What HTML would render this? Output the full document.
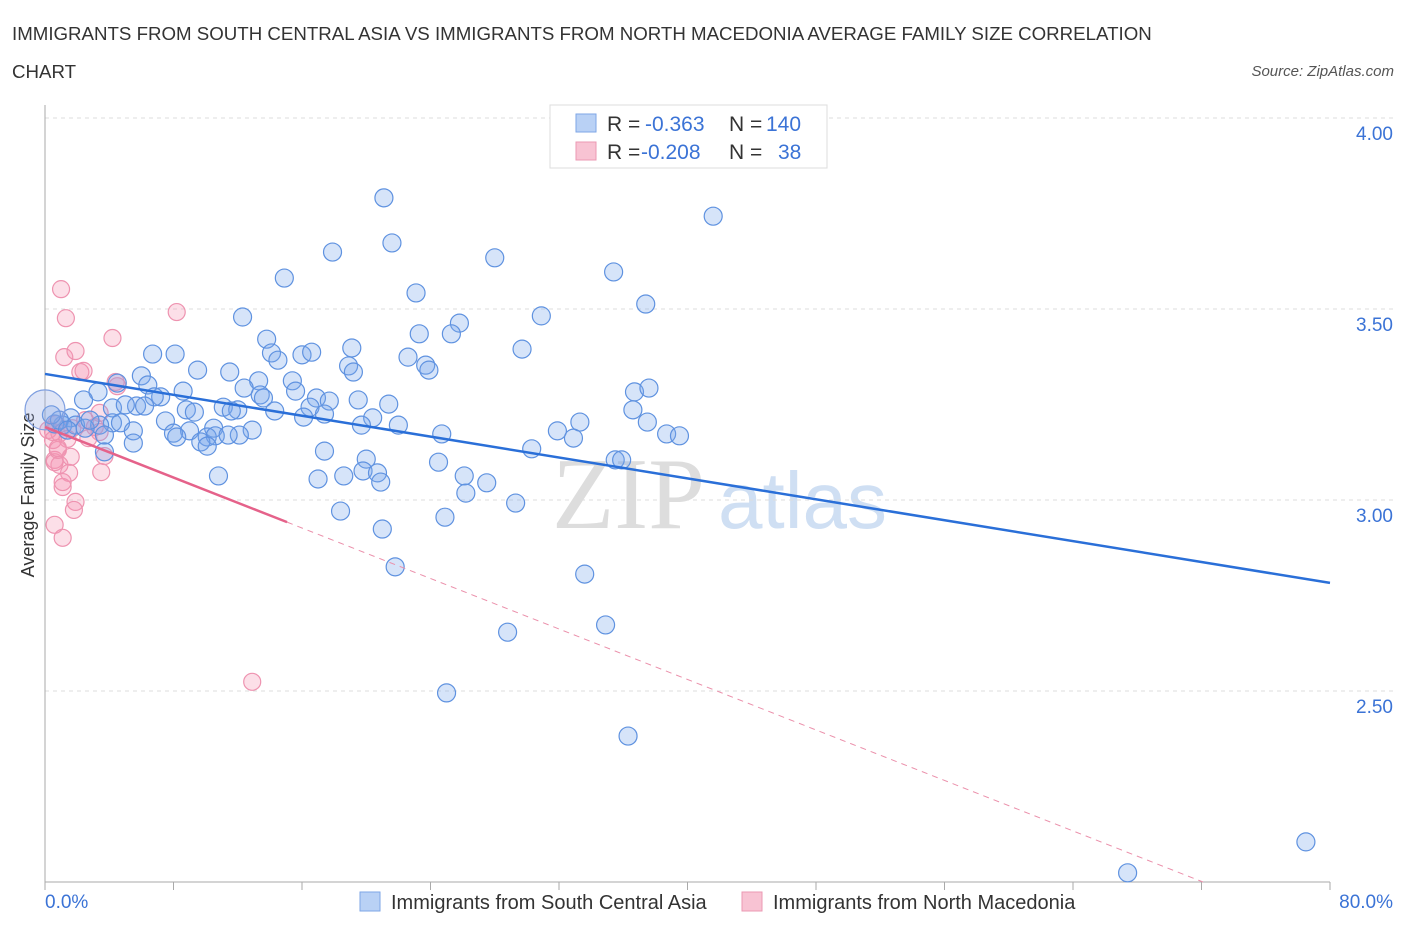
<!DOCTYPE html>
<html><head><meta charset="utf-8"><style>
body{margin:0;background:#fff;font-family:"Liberation Sans",sans-serif;}
svg{display:block}
</style></head><body>
<svg id="chart" width="1406" height="930">
<text x="12" y="40" font-size="18.7" fill="#333">IMMIGRANTS FROM SOUTH CENTRAL ASIA VS IMMIGRANTS FROM NORTH MACEDONIA AVERAGE FAMILY SIZE CORRELATION</text>
<text x="12" y="78" font-size="18.7" fill="#333">CHART</text>
<text x="1394" y="76" font-size="15" fill="#555" font-style="italic" text-anchor="end">Source: ZipAtlas.com</text>
<text x="0" y="0" transform="translate(34,495) rotate(-90)" font-size="18" fill="#333" text-anchor="middle">Average Family Size</text>
<g>
<text x="552" y="528" font-size="102" fill="#ddd" font-family="Liberation Serif,serif">ZIP</text>
<text x="718" y="528" font-size="80" fill="#cfdff3">atlas</text>
</g>
<g id="grid"></g>
<g id="axes"></g>
<g id="pts"></g>
<g id="lines"></g>
<g>
<rect x="550" y="105" width="277" height="63" fill="#fff" stroke="#ddd"/>
<rect x="576" y="114" width="20" height="18" fill="#b9d1f5" stroke="#7ea6e6"/>
<rect x="576" y="142" width="20" height="18" fill="#f8c3d3" stroke="#eb98b3"/>
<text y="131" font-size="21"><tspan x="607" fill="#333">R = </tspan><tspan x="645" fill="#3b73d6">-0.363</tspan><tspan x="729" fill="#333">N = </tspan><tspan x="766" fill="#3b73d6">140</tspan></text>
<text y="159" font-size="21"><tspan x="607" fill="#333">R = </tspan><tspan x="641" fill="#3b73d6">-0.208</tspan><tspan x="729" fill="#333">N = </tspan><tspan x="778" fill="#3b73d6">38</tspan></text>
</g>
<g>
<rect x="360" y="892" width="20" height="19" fill="#b9d1f5" stroke="#7ea6e6"/>
<text x="391" y="909" font-size="20" fill="#333">Immigrants from South Central Asia</text>
<rect x="742" y="892" width="20" height="19" fill="#f8c3d3" stroke="#eb98b3"/>
<text x="773" y="909" font-size="20" fill="#333">Immigrants from North Macedonia</text>
</g>
</svg>
<script>
const yTicks=[2.5,3.0,3.5,4.0];
const yTickLabels=["2.50","3.00","3.50","4.00"];
const xTicks=[0,8,16,24,32,40,48,56,64,72,80];
const blueX=[21.1,41.6,21.6,17.9,28.0,35.4,14.9,23.1,37.4,12.3,30.9,25.8,23.3,25.3,13.8,29.7,19.1,6.7,8.1,14.1,16.0,16.6,22.6,23.7,23.9,18.9,19.2,9.5,14.5,11.5,6.0,4.5,6.4,15.4,13.3,12.4,8.6,13.4,36.7,37.6,15.6,13.6,16.9,19.5,3.3,2.4,7.2,6.8,5.7,4.2,5.0,6.2,11.1,12.0,8.8,9.3,16.5,17.7,11.6,14.3,17.4,21.4,36.6,16.1,20.4,19.7,22.0,33.3,37.5,4.2,4.7,1.6,1.1,7.5,0.6,3.4,9.0,10.5,12.9,24.7,31.9,32.9,38.7,39.5,10.1,3.7,5.5,8.0,12.1,8.2,10.6,11.4,9.7,10.1,5.5,3.7,17.4,30.3,24.5,20.0,35.5,35.9,19.8,20.7,17.0,26.1,10.8,27.5,20.9,18.6,26.2,29.3,18.4,24.9,21.0,21.8,33.6,34.9,28.8,25.0,36.3,78.5,67.4,0.9,1.9,2.5,1.4,2.8,0.4];
const blueY=[3.791,3.743,3.673,3.649,3.634,3.597,3.581,3.542,3.513,3.479,3.482,3.463,3.435,3.435,3.421,3.395,3.398,3.382,3.382,3.385,3.380,3.387,3.374,3.353,3.340,3.351,3.335,3.340,3.366,3.335,3.325,3.306,3.301,3.312,3.312,3.293,3.285,3.275,3.283,3.293,3.285,3.267,3.267,3.262,3.283,3.262,3.270,3.270,3.246,3.241,3.249,3.246,3.243,3.236,3.236,3.230,3.243,3.259,3.233,3.233,3.225,3.251,3.236,3.217,3.215,3.196,3.196,3.204,3.204,3.202,3.202,3.215,3.196,3.207,3.199,3.196,3.181,3.188,3.183,3.173,3.181,3.162,3.173,3.168,3.165,3.170,3.181,3.175,3.170,3.165,3.168,3.170,3.152,3.141,3.149,3.126,3.128,3.134,3.099,3.107,3.105,3.105,3.076,3.071,3.055,3.063,3.063,3.045,3.047,3.063,3.018,2.992,2.971,2.955,2.924,2.825,2.806,2.673,2.654,2.495,2.382,2.105,2.024,3.209,3.196,3.188,3.183,3.209,3.223];
const pinkX=[1.0,1.3,8.2,4.2,1.2,1.9,2.2,2.4,4.4,4.5,3.4,3.1,3.4,0.7,0.5,0.9,1.4,0.6,0.9,0.6,0.8,1.6,1.5,3.5,1.1,1.1,1.9,1.8,0.6,1.1,12.9,3.7,2.7,1.7,0.2,0.5,0.8,2.5];
const pinkY=[3.552,3.476,3.492,3.424,3.374,3.390,3.335,3.338,3.309,3.298,3.228,3.191,3.178,3.199,3.178,3.175,3.160,3.105,3.092,3.099,3.131,3.113,3.071,3.073,3.034,3.047,2.995,2.974,2.935,2.901,2.524,3.115,3.162,3.188,3.183,3.157,3.136,3.209];
const bigX=[0.0];const bigY=[3.236];
const blueTrend=[3.330,2.783];
const pinkTrend=[3.191,-0.01652];

const X0=45,X1=1330,Y0=882,Y1=118;
const sx=v=>X0+(v/80)*(X1-X0);
const sy=v=>Y0-(v-2)/2*(Y0-Y1);
const NS='http://www.w3.org/2000/svg';
function mk(tag,parent,attrs){const e=document.createElementNS(NS,tag);for(const k in attrs)e.setAttribute(k,attrs[k]);parent.appendChild(e);return e;}
const grid=document.getElementById('grid'),axes=document.getElementById('axes'),pts=document.getElementById('pts'),lines=document.getElementById('lines');
yTicks.forEach((t,i)=>{
 const g=mk('line',grid,{x1:X0,x2:1395,y1:sy(t),y2:sy(t),stroke:'#ddd','stroke-dasharray':'4,4'});
 
 
 const l=mk('text',grid,{x:1393,y:sy(t)+22,'font-size':19,fill:'#3b73d6','text-anchor':'end'});
 l.textContent=yTickLabels[i];
 
 
});
const ax=mk('line',axes,{x1:X0,x2:X0,y1:105,y2:Y0,stroke:'#aaa'});


const bx=mk('line',axes,{x1:X0,x2:X1,y1:Y0,y2:Y0,stroke:'#aaa'});


xTicks.forEach(t=>{
 const tk=mk('line',axes,{x1:sx(t),x2:sx(t),y1:Y0,y2:Y0+8,stroke:'#aaa'});
 
 
});
const xl0=mk('text',axes,{x:45,y:908,'font-size':19,fill:'#3b73d6'});xl0.textContent='0.0%';


const xl1=mk('text',axes,{x:1393,y:908,'font-size':19,fill:'#3b73d6','text-anchor':'end'});xl1.textContent='80.0%';


pinkX.forEach((x,i)=>{
 const c=mk('circle',pts,{cx:sx(x),cy:sy(pinkY[i]),r:8.5,fill:'rgba(244,150,178,0.3)',stroke:'#ee93b0','stroke-width':1.2});
 
 
});
blueX.forEach((x,i)=>{
 const c=mk('circle',pts,{cx:sx(x),cy:sy(blueY[i]),r:9,fill:'rgba(120,165,235,0.3)',stroke:'#5f92e0','stroke-width':1.2});
 
 
});
bigX.forEach((x,i)=>{
 const c=mk('circle',pts,{cx:sx(x),cy:sy(bigY[i]),r:20,fill:'rgba(150,170,225,0.3)',stroke:'#7f9fe0','stroke-width':1.2});
 
 
});
const bl=mk('line',lines,{x1:sx(0),y1:sy(blueTrend[0]),x2:sx(80),y2:sy(blueTrend[1]),stroke:'#2a6fd8','stroke-width':2.5});


const pY=x=>pinkTrend[0]+pinkTrend[1]*x;
const pSolidEnd=15.07, pEnd=(2-pinkTrend[0])/pinkTrend[1];
const pl=mk('line',lines,{x1:sx(0),y1:sy(pY(0)),x2:sx(pSolidEnd),y2:sy(pY(pSolidEnd)),stroke:'#e5628a','stroke-width':2.5});


const pd=mk('line',lines,{x1:sx(pSolidEnd),y1:sy(pY(pSolidEnd)),x2:sx(pEnd),y2:sy(2),stroke:'#eb90ab','stroke-width':1,'stroke-dasharray':'6,5'});


</script>
</body></html>
